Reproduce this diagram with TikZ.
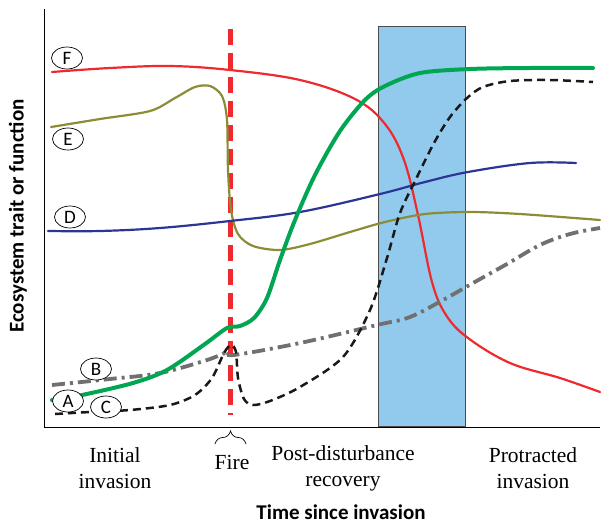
\documentclass[tikz,border=0pt]{standalone}
\usepackage{fontspec}
\setmainfont{Liberation Serif}
\newfontfamily\labfont{Carlito}
\usetikzlibrary{decorations.pathreplacing,shapes.geometric}
\definecolor{fred}{HTML}{EE2A2E}
\definecolor{folive}{HTML}{8C8C36}
\definecolor{fblue}{HTML}{2B3593}
\definecolor{fgreen}{HTML}{00A651}
\definecolor{fgray}{HTML}{707070}
\definecolor{fbox}{HTML}{92CAEE}
\tikzset{
  tag/.style={draw=black, line width=0.7pt, ellipse, fill=white, minimum width=31pt, minimum height=22pt, inner sep=0pt, font=\labfont\fontsize{19}{19}\selectfont},
  phase/.style={align=center, font=\fontsize{21.5}{26}\selectfont},
  axtitle/.style={font=\labfont\bfseries\fontsize{21}{21}\selectfont},
  curve/.style={line width=2.2pt, line cap=round, line join=round},
}
\begin{document}
\begin{tikzpicture}[x=1pt,y=-1pt]
\useasboundingbox (0,0) rectangle (601,525);

% disturbance window
\node (win) [draw=black!70, line width=0.9pt, fill=fbox, minimum width=87pt, minimum height=400pt, inner sep=0pt, anchor=south west] at (378,427) {};

% axes
\coordinate (o) at (44,427);
\coordinate (ytop) at (44,9);
\coordinate (xend) at (600,427);
\draw[line width=0.9pt] (ytop) -- (o) -- (xend);

% fire event
\coordinate (f1) at (230,29);
\coordinate (f2) at (230,415);
\draw[fred, line width=5pt, dash pattern=on 16pt off 8pt] (f1) -- (f2);

% F
\draw[curve, fred] plot[smooth, tension=0.6] coordinates {(52,72) (110,68) (170,66) (230,70) (300,80) (355,99) (385,124) (404,160) (418,215) (432,282) (446,315) (468,338) (510,363) (560,378) (600,392)};

% E
\draw[curve, folive] plot[smooth, tension=0.5] coordinates {(51,127) (100,119) (150,111) (175,98) (195,87) (210,86) (222,96) (227,120) (228,170) (231,210) (238,234) (253,246) (280,250) (310,244) (350,232) (385,222) (425,214) (470,212) (520,214) (600,220)};

% D
\draw[curve, fblue] plot[smooth, tension=0.6] coordinates {(48,231) (100,231) (160,228) (230,221) (300,212) (380,194) (425,182) (468,172) (530,163) (576,163)};

% B
\draw[fgray, line width=3.8pt, dash pattern=on 13pt off 5pt on 3pt off 5pt] plot[smooth, tension=0.6] coordinates {(52,385) (110,379) (160,373) (207,360) (228,352) (234,355) (300,343) (377,325) (410,317) (443,300) (473,283) (507,264) (540,245) (570,234) (600,228)};

% A
\draw[fgreen, line width=4pt, line cap=round, line join=round] plot[smooth, tension=0.5] coordinates {(52,400) (82,395) (133,383) (167,370) (205,344) (227,328) (240,326) (254,318) (267,298) (280,260) (295,220) (315,175) (340,131) (365,100) (385,86) (420,73) (470,69) (530,68) (593,68)};

% C
\draw[black!90, line width=2.5pt, dash pattern=on 8pt off 5pt] plot[smooth, tension=0.5] coordinates {(55,414) (90,412) (130,410) (170,405) (195,395) (212,378) (224,353) (231,345) (236,352) (238,378) (244,399) (253,405) (270,401) (300,387) (343,357) (370,310) (387,258) (400,213) (417,177) (434,143) (450,117) (467,98) (483,87) (510,81) (550,80) (593,82)};

% curve tags
\node[tag] (tF) at (67,58) {F};
\node[tag] (tE) at (68,139) {E};
\node[tag] (tD) at (70,217) {D};
\node[tag] (tB) at (96,369) {B};
\node[tag] (tA) at (68,401) {A};
\node[tag] (tC) at (106,407) {C};

% fire brace
\coordinate (b1) at (215,444);
\coordinate (b2) at (246,444);
\draw[line width=0.7pt, decorate, decoration={brace, amplitude=13pt}] (b1) -- (b2);

% phases
\node[phase] (p1) at (115,468) {Initial\\invasion};
\node[phase] (p2) at (232,462) {Fire};
\node[phase] (p3) at (343,468) {Post-disturbance\\recovery};
\node[phase] (p4) at (533,468) {Protracted\\invasion};

% axis titles
\node[axtitle] (xl) at (341,512) {Time since invasion};
\node[axtitle, rotate=90] (yl) at (18,216) {Ecosystem trait or function};
\end{tikzpicture}
\end{document}
